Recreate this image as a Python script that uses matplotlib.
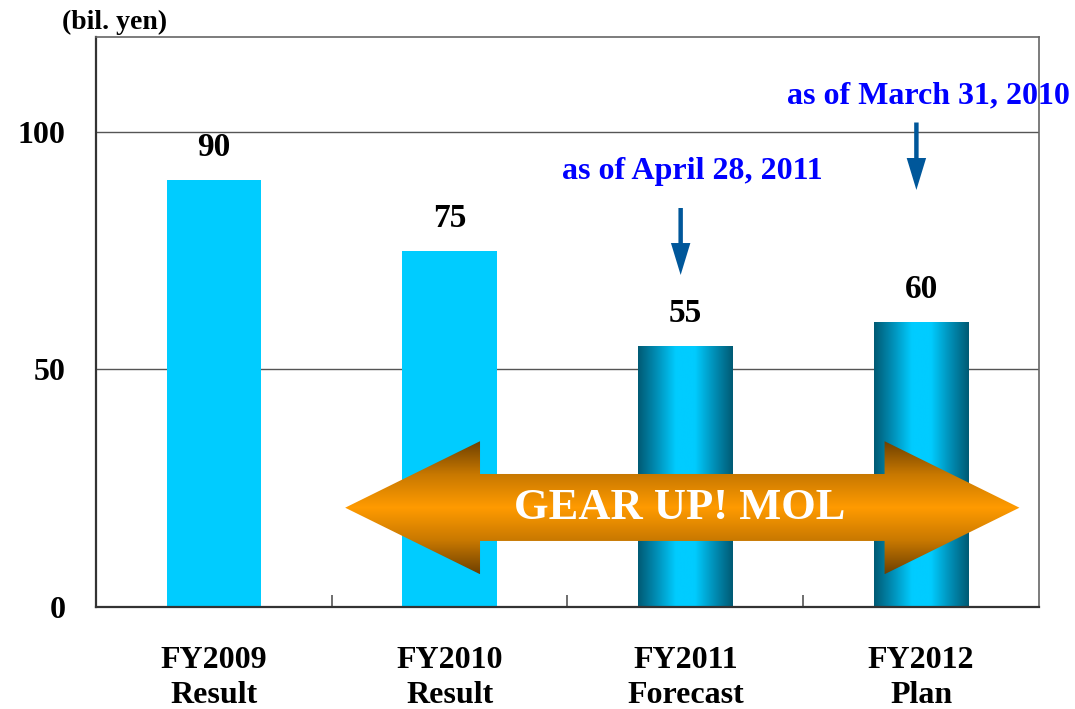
import numpy as np
import matplotlib
matplotlib.use("Agg")
import matplotlib.pyplot as plt
from matplotlib.patches import Rectangle, Polygon
from matplotlib.colors import LinearSegmentedColormap

plt.rcParams['font.family'] = ['Liberation Serif', 'DejaVu Serif']
plt.rcParams['font.weight'] = 'bold'

categories = ["FY2009\nResult", "FY2010\nResult", "FY2011\nForecast", "FY2012\nPlan"]
values = [90, 75, 55, 60]
gradient_bar = [False, False, True, True]
yticks = [0, 50, 100]
unit_label = "(bil. yen)"
banner_text = "GEAR UP! MOL"
note_labels = ["as of April 28, 2011", "as of March 31, 2010"]
note_bar_index = [2, 3]

fig = plt.figure(figsize=(10.75, 7.09), dpi=100)
ax = fig.add_axes([0.0893, 0.1439, 0.8772, 0.8039])

x = np.arange(len(categories))
bar_w = 0.4
bar_cmap = LinearSegmentedColormap.from_list(
    "bar", ["#005a74", "#0090b8", "#00ccff", "#00ccff", "#0090b8", "#005a74"])
grad_h = np.linspace(0, 1, 256).reshape(1, -1)

bars = ax.bar(x, values, width=bar_w, color="#00ccff", zorder=2)
for b, g in zip(bars, gradient_bar):
    if g:
        b.set_facecolor("none")
        x0, w, h = b.get_x(), b.get_width(), b.get_height()
        im = ax.imshow(grad_h, cmap=bar_cmap, aspect="auto",
                       extent=[x0, x0 + w, 0, h], zorder=2, interpolation="bicubic")
        im.set_clip_path(b)

for xi, v in zip(x, values):
    ax.annotate(str(v), (xi, v), xytext=(0, 12), textcoords="offset points",
                ha="center", va="bottom", fontsize=24, fontweight="bold")

ax.set_xlim(-0.5, len(categories) - 0.5)
ax.set_ylim(0, 120)
ax.set_yticks(yticks)
ax.set_yticklabels([str(t) for t in yticks], fontsize=23, fontweight="bold")
ax.tick_params(axis="y", length=0, pad=22)
ax.set_xticks(x)
ax.set_xticklabels(categories, fontsize=23, fontweight="bold", linespacing=1.3)
ax.tick_params(axis="x", which="major", length=0, pad=28)
ax.set_xticks(x[:-1] + 0.5, minor=True)
ax.tick_params(axis="x", which="minor", direction="in", length=9, width=1.2, color="#555555")

for yv in yticks[1:]:
    ax.axhline(yv, color="#555555", lw=1.0, zorder=1)

for s in ["top", "right"]:
    ax.spines[s].set_color("#666666")
    ax.spines[s].set_linewidth(1.2)
for s in ["left", "bottom"]:
    ax.spines[s].set_color("#333333")
    ax.spines[s].set_linewidth(1.6)

ax.text(-0.42, 123.0, unit_label, ha="center", va="center", fontsize=20, fontweight="bold")

# banner double arrow
tipL, baseL, baseR, tipR = 0.557, 1.129, 2.845, 3.417
ylo, yhi, hlo, hhi, yc = 13.9, 28.0, 6.9, 34.9, 20.9
verts = [(tipL, yc), (baseL, hhi), (baseL, yhi), (baseR, yhi), (baseR, hhi),
         (tipR, yc), (baseR, hlo), (baseR, ylo), (baseL, ylo), (baseL, hlo)]
poly = Polygon(verts, closed=True, facecolor="none", edgecolor="none", zorder=3)
ax.add_patch(poly)
arrow_cmap = LinearSegmentedColormap.from_list(
    "arr", ["#6e4000", "#c87800", "#ff9b00", "#c87800", "#6e4000"])
grad_v = np.linspace(0, 1, 256).reshape(-1, 1)
im2 = ax.imshow(grad_v, cmap=arrow_cmap, aspect="auto",
                extent=[tipL, tipR, hlo, hhi], zorder=3, interpolation="bicubic")
im2.set_clip_path(poly)
ax.text((tipL + tipR) / 2 - 0.01, yc, banner_text, ha="center", va="center",
        color="white", fontsize=32, fontweight="bold", zorder=4)
ax.set_xlim(-0.5, len(categories) - 0.5)
ax.set_ylim(0, 120)

# notes with blue arrows
note_arrow_top = [84, 102]
note_arrow_bot = [69.9, 87.8]
note_text_y = [91.6, 107.6]
for lbl, bi, at, ab, ty in zip(note_labels, note_bar_index, note_arrow_top, note_arrow_bot, note_text_y):
    ax.annotate("", xy=(bi - 0.02, ab), xytext=(bi - 0.02, at),
                arrowprops=dict(arrowstyle="simple,head_length=1.15,head_width=0.7,tail_width=0.16",
                                mutation_scale=20, lw=0, color="#00579a",
                                shrinkA=0, shrinkB=0), zorder=5)
    ax.text(bi + 0.03, ty, lbl, ha="center", va="center", color="#0000ff",
            fontsize=23, fontweight="bold", clip_on=False, zorder=5)

fig.savefig("out.png", dpi=100)
